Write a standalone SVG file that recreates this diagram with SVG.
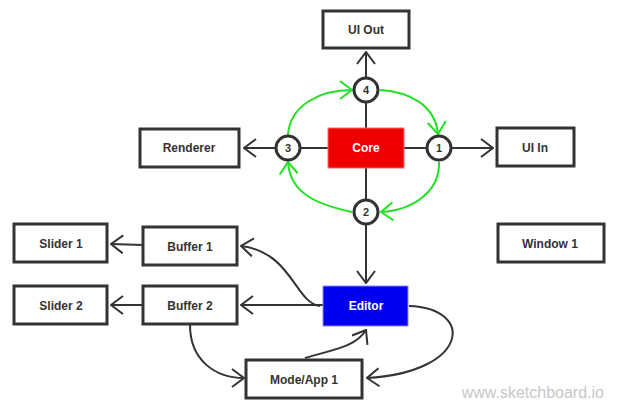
<svg xmlns="http://www.w3.org/2000/svg" width="619" height="413" viewBox="0 0 619 413">
<defs>
<style>
.box{fill:#fff;stroke:#333;stroke-width:3}
.lbl{font-family:"Liberation Sans",Arial,sans-serif;font-weight:bold;font-size:12px;fill:#333;text-anchor:middle;dominant-baseline:central}
.wl{font-family:"Liberation Sans",Arial,sans-serif;font-weight:bold;font-size:12px;fill:#fff;text-anchor:middle;dominant-baseline:central}
.circ{fill:#fff;stroke:#333;stroke-width:3}
.ln{fill:none;stroke:#333;stroke-width:2}
.arr{fill:none;stroke:#333;stroke-width:2;marker-end:url(#ah)}
.garr{fill:none;stroke:#22e022;stroke-width:2;marker-end:url(#gh)}
</style>
<marker id="ah" viewBox="0 0 14 20" refX="13" refY="10" markerWidth="14" markerHeight="20" markerUnits="userSpaceOnUse" orient="auto">
<path d="M1,1 L13,10 L1,19" fill="none" stroke="#333" stroke-width="2"/>
</marker>
<marker id="gh" viewBox="0 0 14 20" refX="13" refY="10" markerWidth="14" markerHeight="20" markerUnits="userSpaceOnUse" orient="auto">
<path d="M1,1 L13,10 L1,19" fill="none" stroke="#22e022" stroke-width="2"/>
</marker>
</defs>
<rect width="619" height="413" fill="#fff"/>
<g id="connectors">
<line class="ln" x1="366" y1="103" x2="366" y2="128"/>
<line class="ln" x1="328" y1="148" x2="301" y2="148"/>
<line class="ln" x1="404" y1="148" x2="426" y2="148"/>
<line class="ln" x1="366" y1="168" x2="366" y2="199"/>
<path class="arr" d="M366 77 L366 52"/>
<path class="arr" d="M452 148 L493 148"/>
<path class="arr" d="M275 148 L244 148"/>
<path class="arr" d="M366 225 L366 283"/>
<path class="arr" d="M143 245 L111 244"/>
<path class="arr" d="M143 305 L111 305"/>
<path class="arr" d="M323 305 L241 305"/>
<path class="arr" d="M320 306 C 295 303, 292 252, 241 246"/>
<path class="arr" d="M190 325 C 190 360, 215 378, 244 378"/>
<path class="arr" d="M305 358 C 330 350, 355 348, 366 330"/>
<path class="arr" d="M409 306 C 475 308, 470 372, 367 378"/>
<path class="garr" d="M288 135 C 290 105, 320 90, 352 90"/>
<path class="garr" d="M380 90 C 410 92, 435 105, 438 134"/>
<path class="garr" d="M439 162 C 440 190, 415 210, 381 212"/>
<path class="garr" d="M352 212 C 320 205, 290 195, 288 162"/>
</g>
<g id="ui-out"><rect class="box" x="323" y="11" width="86" height="37"/><text class="lbl" x="366" y="30">UI Out</text></g>
<g id="c4"><circle class="circ" cx="366" cy="90" r="12"/><text class="lbl" x="366" y="90" style="font-size:11px">4</text></g>
<g id="c1"><circle class="circ" cx="439" cy="148" r="12"/><text class="lbl" x="439" y="148" style="font-size:11px">1</text></g>
<g id="c3"><circle class="circ" cx="288" cy="148" r="12"/><text class="lbl" x="288" y="148" style="font-size:11px">3</text></g>
<g id="c2"><circle class="circ" cx="366" cy="212" r="12"/><text class="lbl" x="366" y="212" style="font-size:11px">2</text></g>
<g id="core"><rect x="328" y="128" width="76" height="40" fill="#ee0000" stroke="#f66" stroke-width="1"/><text class="wl" x="366" y="148">Core</text></g>
<g id="ui-in"><rect class="box" x="497" y="128" width="77" height="38"/><text class="lbl" x="535" y="148">UI In</text></g>
<g id="renderer"><rect class="box" x="140" y="129" width="99" height="38"/><text class="lbl" x="189" y="148">Renderer</text></g>
<g id="editor"><rect x="323" y="286" width="85" height="40" fill="#0000ee" stroke="#88f" stroke-width="1"/><text class="wl" x="366" y="306">Editor</text></g>
<g id="window1"><rect class="box" x="498" y="224" width="106" height="38"/><text class="lbl" x="550" y="244">Window 1</text></g>
<g id="slider1"><rect class="box" x="14" y="224" width="93" height="38"/><text class="lbl" x="61" y="244">Slider 1</text></g>
<g id="buffer1"><rect class="box" x="143" y="227" width="94" height="38"/><text class="lbl" x="190" y="247">Buffer 1</text></g>
<g id="slider2"><rect class="box" x="14" y="286" width="93" height="38"/><text class="lbl" x="61" y="306">Slider 2</text></g>
<g id="buffer2"><rect class="box" x="143" y="286" width="94" height="38"/><text class="lbl" x="190" y="306">Buffer 2</text></g>
<g id="modeapp1"><rect class="box" x="246" y="360" width="116" height="38"/><text class="lbl" x="304" y="380">Mode/App 1</text></g>
<text x="604" y="398" font-family="'Liberation Sans',Arial,sans-serif" font-size="16" fill="#c8c8c8" text-anchor="end">www.sketchboard.io</text>
</svg>
